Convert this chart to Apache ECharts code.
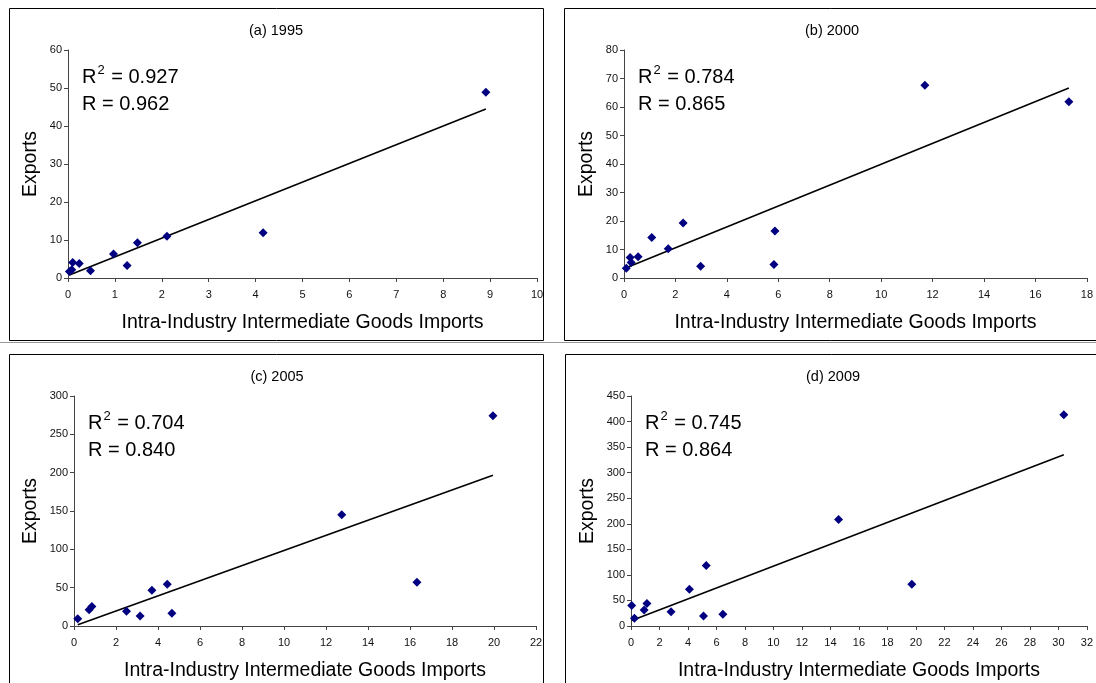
<!DOCTYPE html>
<html>
<head>
<meta charset="utf-8">
<script src="https://cdn.jsdelivr.net/npm/echarts@6/dist/echarts.min.js"></script>
<style>
html,body{margin:0;padding:0;background:#fff;}
#main{width:1096px;height:683px;}
</style>
</head>
<body>
<div id="main"></div>
<script>
// ---- data ----
const titles = ['(a) 1995', '(b) 2000', '(c) 2005', '(d) 2009'];
const r2Texts = ['0.927', '0.784', '0.704', '0.745'];
const rTexts = ['0.962', '0.865', '0.840', '0.864'];
const xName = 'Intra-Industry Intermediate Goods Imports';
const yName = 'Exports';

const x1995 = [0.03, 0.08, 0.10, 0.24, 0.48, 0.97, 1.26, 1.48, 2.11, 4.16, 8.91];
const y1995 = [1.7, 2.2, 4.1, 3.8, 1.9, 6.3, 3.3, 9.3, 11.0, 11.9, 48.9];

const x2000 = [0.09, 0.24, 0.28, 0.55, 1.08, 1.72, 2.30, 2.98, 5.83, 5.87, 11.70, 17.30];
const y2000 = [3.4, 7.2, 5.4, 7.5, 14.2, 10.3, 19.3, 4.1, 4.7, 16.5, 67.6, 61.8];

const x2005 = [0.18, 0.72, 0.85, 2.50, 3.15, 3.71, 4.44, 4.66, 12.75, 16.33, 19.95];
const y2005 = [9.6, 21.3, 25.3, 19.2, 13.1, 46.6, 54.4, 16.5, 145.0, 57.0, 274.3];

const x2009 = [0.05, 0.24, 0.92, 1.12, 2.81, 4.10, 5.09, 5.28, 6.45, 14.57, 19.71, 30.38];
const y2009 = [39.9, 15.0, 31.4, 43.8, 28.1, 71.9, 19.6, 118.4, 22.9, 208.6, 81.8, 413.4];

const xMax = [10, 18, 22, 32];
const xStep = [1, 2, 2, 2];
const yMax = [60, 80, 300, 450];
const yStep = [10, 10, 50, 50];

// ---- layout ----
const FONT = 'Liberation Sans, Arial, sans-serif';
const grids = [
  {left: 68, top: 50, width: 469, height: 228},
  {left: 624, top: 50, width: 466, height: 228},
  {left: 74, top: 396, width: 462, height: 230},
  {left: 631, top: 396, width: 461, height: 230}
];
const boxes = [
  {x: 9.5, y: 8.5, w: 534, h: 332},
  {x: 564.5, y: 8.5, w: 540, h: 332},
  {x: 9.5, y: 354.5, w: 534, h: 340},
  {x: 565.5, y: 354.5, w: 540, h: 340}
];
const titlePos = [[276, 31], [832, 31], [277, 377], [833, 377]];
const yNameGap = [27, 27, 33, 33];

const xs = [x1995, x2000, x2005, x2009];
const ys = [y1995, y2000, y2005, y2009];

function linReg(x, y) {
  const n = x.length;
  let mx = 0, my = 0;
  for (let i = 0; i < n; i++) { mx += x[i]; my += y[i]; }
  mx /= n; my /= n;
  let sxx = 0, sxy = 0;
  for (let i = 0; i < n; i++) { sxx += (x[i]-mx)*(x[i]-mx); sxy += (x[i]-mx)*(y[i]-my); }
  const b = sxy / sxx, a = my - b * mx;
  const x0 = Math.min(...x), x1 = Math.max(...x);
  return [[x0, a + b * x0], [x1, a + b * x1]];
}

const option = {
  backgroundColor: '#fff',
  animation: false,
  grid: grids.map(g => Object.assign({containLabel: false}, g)),
  xAxis: grids.map((g, i) => ({
    gridIndex: i, type: 'value', min: 0, max: xMax[i], interval: xStep[i],
    name: xName, nameLocation: 'middle', nameGap: 35,
    nameTextStyle: {fontFamily: FONT, fontSize: 19.5, color: '#000'},
    axisLine: {show: true, onZero: false, lineStyle: {color: '#444', width: 1}},
    axisTick: {show: true, length: 4, lineStyle: {color: '#444'}},
    axisLabel: {fontFamily: FONT, fontSize: 11, color: '#111', margin: 11},
    splitLine: {show: false}
  })),
  yAxis: grids.map((g, i) => ({
    gridIndex: i, type: 'value', min: 0, max: yMax[i], interval: yStep[i],
    name: yName, nameLocation: 'middle', nameGap: yNameGap[i], nameRotate: 90,
    nameTextStyle: {fontFamily: FONT, fontSize: 19.5, color: '#000'},
    axisLine: {show: true, onZero: false, lineStyle: {color: '#444', width: 1}},
    axisTick: {show: true, length: 4, lineStyle: {color: '#444'}},
    axisLabel: {fontFamily: FONT, fontSize: 11, color: '#111', margin: 6},
    splitLine: {show: false}
  })),
  series: [],
  graphic: []
};

for (let i = 0; i < 4; i++) {
  option.series.push({
    type: 'line', xAxisIndex: i, yAxisIndex: i,
    data: linReg(xs[i], ys[i]),
    symbol: 'none', lineStyle: {color: '#000', width: 1.6}, z: 2
  });
  option.series.push({
    type: 'scatter', xAxisIndex: i, yAxisIndex: i,
    data: xs[i].map((v, k) => [v, ys[i][k]]),
    symbol: 'diamond', symbolSize: 9,
    itemStyle: {color: '#000080', opacity: 1}, z: 3
  });
  const b = boxes[i];
  option.graphic.push({
    type: 'rect', shape: {x: b.x, y: b.y, width: b.w, height: b.h},
    style: {fill: 'none', stroke: '#000', lineWidth: 1}, z: 10, silent: true
  });
  option.graphic.push({
    type: 'text', x: titlePos[i][0], y: titlePos[i][1],
    style: {text: titles[i], fontFamily: FONT, fontSize: 14.5, fill: '#000',
      align: 'center', verticalAlign: 'middle'}, z: 10
  });
  const g = grids[i];
  option.graphic.push({
    type: 'text', x: g.left + 14, y: g.top + 14,
    style: {
      text: '{r|R}{s|2}{r| = ' + r2Texts[i] + '}\n{r|R = ' + rTexts[i] + '}',
      fontFamily: FONT, fill: '#000', align: 'left', verticalAlign: 'top',
      lineHeight: 27,
      rich: {
        r: {fontFamily: FONT, fontSize: 20, fill: '#000', lineHeight: 27},
        s: {fontFamily: FONT, fontSize: 13, fill: '#000', verticalAlign: 'top', padding: [0, 1, 0, 1]}
      }
    }, z: 10
  });
}
// separator line between rows
option.graphic.push({
  type: 'line', shape: {x1: 0, y1: 342.5, x2: 1096, y2: 342.5},
  style: {stroke: '#999', lineWidth: 1}, z: 10, silent: true
});

const chart = echarts.init(document.getElementById('main'), null, {renderer: 'canvas'});
chart.setOption(option);
</script>
</body>
</html>
